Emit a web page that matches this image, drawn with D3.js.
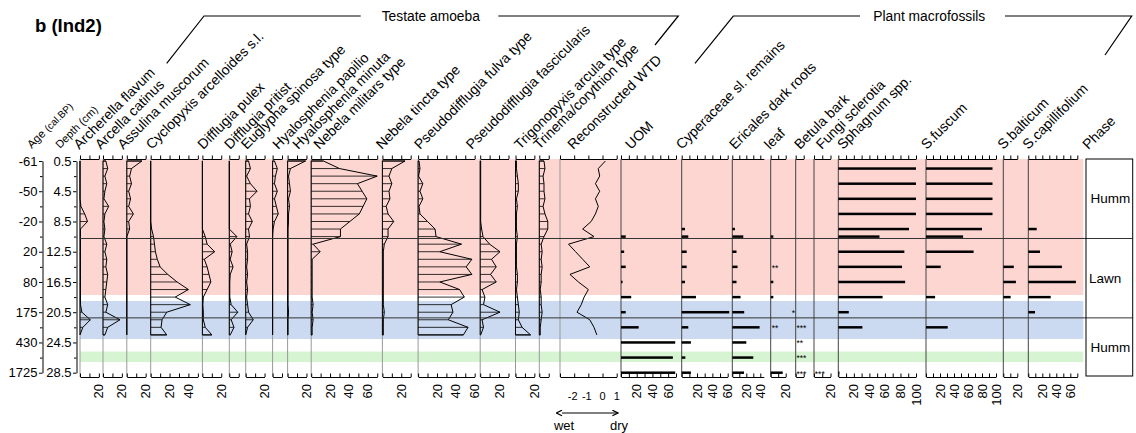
<!DOCTYPE html>
<html><head><meta charset="utf-8">
<script src="https://cdn.jsdelivr.net/npm/d3@7/dist/d3.min.js"></script>
<style>
html,body{margin:0;padding:0;background:#fff;}
svg text{font-family:"Liberation Sans",Arial,Helvetica,sans-serif;fill:#000;}
</style></head><body>
<svg id="chart" width="1136" height="433"></svg>
<script>
// ================= DATA =================
const depthTicks = [0.5, 4.5, 8.5, 12.5, 16.5, 20.5, 24.5, 28.5];
const minorDepthTicks = [2.5, 6.5, 10.5, 14.5, 18.5, 22.5, 26.5];
const ageLabels = ["-61", "-50", "-20", "20", "80", "175", "430", "1725"];
const depthLabels = ["0.5", "4.5", "8.5", "12.5", "16.5", "20.5", "24.5", "28.5"];

// testate amoeba sample depths (cm)
const taDepths = [0.5,1.5,2.5,3.5,4.5,5.5,6.5,7.5,8.5,9.5,10.5,11.5,12.5,13.5,14.5,15.5,16.5,17.5,18.5,19.5,20.5,21.5,22.5,23.5];
const taTaxa = ["Archerella flavum","Arcella catinus","Assulina muscorum","Cyclopyxis arcelloides s.l.","Difflugia pulex","Difflugia pritist","Euglypha spinosa type","Hyalosphenia papilio","Hyalosphenia minuta","Nebela militars type","Nebela tincta type","Pseudodifflugia fulva type","Pseudodifflugia fascicularis","Trigonopyxis arcula type","Trinema/corythion type"];
const archerellaFlavum   = [0,0,0,0,0,0,1,5,8,0.5,0.5,0.5,0.5,0.5,0.5,0.5,0.5,0.5,0.5,0.5,2,11,3,0];
const arcellaCatinus     = [3,5,2,4,2,1,6,2,1,2,1,4,2,4,3,5,4,3,2,5,3,18,5,2];
const assulinaMuscorum   = [16,5,3,5,2,4,2,7,2,3,0,0,0,0,0,0,0,0,0,0,0,0,0,0];
const cyclopyxis         = [0,0,0,0,0,0,0,0,0,1,3,4,5,7,10,18,28,40,26,42,17,12,11,17];
const difflugiaPulex     = [0,0,0,0,0,0,0,0,0,0,3,5,13,2,5,7,9,5,1,0.5,1,1,3,10];
const difflugiaPritist   = [0,0,0,0,0,0,0,0,0,0,8,1,3,1,4,1,0.5,0.5,0.5,2,9,2,5,1];
const euglyphaSpinosa    = [3,5,1,5,12,4,5,3,7,3,4,1,2,2,1,2,1,2,1,2,3,8,2,0];
const hyaloPapilio       = [2,5,3,2,5,2,4,6,2,0.5,0,0,0,0,0,0,0,0,0,0,0,0,0,0];
const hyaloMinuta        = [19,3,1,2,3,1,2,1,1,0.5,0.5,0.5,0.5,0.5,0.5,0.5,0.5,0.5,0.5,0.5,1,0.5,0.5,0.5];
const nebelaMilitaris    = [13,30,70,49,54,59,55,51,41,31,31,2,9.5,1,1,1,1,1,1,2,1,2,1,1];
const nebelaTincta       = [24,10,7,10,7,8,4,6,12,6,6,2,1,1,1,1,1,1,1,1,2,1,1,1];
const pseudoFulva        = [1,2,0.5,5,2,5,1,2,10,18,19,46,23,57,51,57,23,44,49,35,37,32,53,48];
const pseudoFascicularis = [0.5,0.5,0.5,0.5,0.5,0.5,0.5,0.5,0.5,1.5,3,10,21,12,17,11,17,2,5,3.5,21,2,3.5,0.5];
const trigonopyxis       = [1,1,2,3,3,1,2,1,1,1,2,1,1,1,1,2,2,1,2,3,4,3,7,16];
const trinema            = [5,6,4,5,5,6,4,6,9,9,5,2,3,2,3,2,2,1,2,2,3,2,1,1];
const taValues = [archerellaFlavum,arcellaCatinus,assulinaMuscorum,cyclopyxis,difflugiaPulex,difflugiaPritist,euglyphaSpinosa,hyaloPapilio,hyaloMinuta,nebelaMilitaris,nebelaTincta,pseudoFulva,pseudoFascicularis,trigonopyxis,trinema];
const taAxisMax = [20,20,20,50,20,10,20,10,20,70,30,60,30,20,10];

// reconstructed water-table depth
const wtdTitle = "Reconstructed WTD";
const wtd = [0.2,-0.3,-0.2,-0.5,-0.2,-0.5,-0.3,-0.5,-0.8,-1.4,-0.6,-2.4,-1.9,-1.4,-0.9,-2.3,-1.7,-1.0,-1.3,-1.5,-1.8,-0.9,-0.6,-0.4];
const wtdTicks = [-3,-2,-1,0,1];
const wtdTickLabels = [-2,-1,0,1];

// plant macrofossils
const macroDepths = [1.5,3.5,5.5,7.5,9.5,10.5,12.5,14.5,16.5,18.5,20.5,22.5,24.5,26.5,28.5];
const macroTaxa = ["UOM","Cyperaceae sl. remains","Ericales dark roots","leaf","Betula bark","Fungi sclerotia","Sphagnum spp.","S.fuscum","S.balticum","S.capillifolium"];
const uom            = [0,0,0,0,0,6,4,6,2,13,6,22.5,69,66,69];
const cyperaceae     = [0,0,0,0,4.3,8.6,6.5,6.5,4.3,18.6,62,8.6,12,4.8,12];
const ericales       = [0,0,0,0,3.8,15.7,6,7.5,6,11.8,17,39,20,30,16.7];
const leaf           = [0,0,0,0,0,3.5,0,0,3.5,3.5,0,0,0,0,16];
const betulaBark     = [0,0,0,0,0,0,0,0,0,0,0,0,0,0,0];
const fungiSclerotia = [0,0,0,0,0,0,0,0,0,0,0,0,0,0,0];
const sphagnumSpp    = [100,100,100,100,91,53,85,82,86,57,13.5,31,0,0,1.5];
const sFuscum        = [95,95,95,95,80,53,68,21,0,13,0,31,0,0,0];
const sBalticum      = [0,0,0,0,0,0,0,15,18,10.5,0,0,0,0,0];
const sCapillifolium = [0,0,0,0,12,0,16.7,48,68,32,9.6,0,0,0,0];
const macroValues = [uom,cyperaceae,ericales,leaf,betulaBark,fungiSclerotia,sphagnumSpp,sFuscum,sBalticum,sCapillifolium];
const macroAxisMax = [70,60,45,20,10,20,100,100,20,70];
// rare occurrences shown as asterisks
const rareTaxon = ["leaf","leaf","leaf","Betula bark","Betula bark","Betula bark","Betula bark","Fungi sclerotia"];
const rareDepth = [14.5,22.5,20.5,22.5,24.5,26.5,28.5,28.5];
const rareMark  = ["**","**","*","***","**","***","***","***"];
const rareAt    = [1.5,1.5,28,1,1,1,1,1];

// zones / phases
const phaseNames = ["Humm","Lawn","Humm"];
const phaseBreaks = [10.75, 21.25];
const bandRanges = [[0.24,18.22],[19.02,24.05],[25.7,27.1]];
const groupTitles = ["Testate amoeba","Plant macrofossils"];

// ================= LAYOUT =================
const TOP = 159, BOT = 377;
const TA_PX = 0.943;
const taLeft   = [80,103,126.8,150.7,202.4,229.3,245.7,272.6,287.6,311.2,382.4,418.1,480.2,515.5,539.3];
const taLabelX = [79.3,100.7,123.3,151.7,203.3,230,246.7,278.3,298.3,319.3,381.7,420,471.7,520,539.3];
const macroLeft   = [621,681.7,732.3,770.7,795.7,814,838.3,926,1003.3,1028.3];
const macroWidth  = [55,46,31.5,15,8,16.5,77.7,70,14,49];
const macroLabelX = [631,681.7,735,770,800,821.7,843,926.7,1003.3,1028.3];
const bandColors = ["#fdd6d1","#cbdaf1","#d6f4d2"];
const FS = 14, TFS = 13;

const svg = d3.select("#chart");
const y = d3.scaleLinear().domain([0.5, 28.5]).range([161, 372.7]);

// background bands
svg.append("g").selectAll("rect").data(bandRanges).join("rect")
  .attr("x", 80).attr("width", 1083.3 - 80)
  .attr("y", d => Math.max(TOP, y(d[0]))).attr("height", d => y(d[1]) - Math.max(TOP, y(d[0])))
  .attr("fill", (d,i) => bandColors[i]);

// title
svg.append("text").attr("x", 35).attr("y", 32).attr("font-size", 18.5).attr("font-weight", "bold").text("b (Ind2)");

// group brackets
svg.append("path").attr("d","M166.7,63.3 L204,16 L360.7,16").attr("fill","none").attr("stroke","#000").attr("stroke-width",1.2);
svg.append("text").attr("x",381.7).attr("y",16).attr("dy","0.35em").attr("font-size",13.8).text(groupTitles[0]);
svg.append("path").attr("d","M498.3,16 L678.3,16 L655,45").attr("fill","none").attr("stroke","#000").attr("stroke-width",1.2);
svg.append("path").attr("d","M695,63.3 L733.3,16 L860,16").attr("fill","none").attr("stroke","#000").attr("stroke-width",1.2);
svg.append("text").attr("x",873.3).attr("y",16).attr("dy","0.35em").attr("font-size",13.8).text(groupTitles[1]);
svg.append("path").attr("d","M1005,16 L1131.7,16 L1105,55").attr("fill","none").attr("stroke","#000").attr("stroke-width",1.2);

function rotLabel(x, yy, txt, fs){
  return svg.append("text").attr("transform", `translate(${x},${yy}) rotate(-45)`).attr("font-size", fs || FS).text(txt);
}
// age / depth labels
const ageT = svg.append("text").attr("transform","translate(31.7,149) rotate(-45)").attr("font-size",11.5);
ageT.append("tspan").text("Age ");
ageT.append("tspan").attr("font-size",10).text("(cal.BP)");
rotLabel(60,149,"Depth (cm)",11);

// left axes
function leftAxis(xPos, labels){
  const g = svg.append("g").attr("transform",`translate(${xPos},0)`)
    .call(d3.axisLeft(y).tickValues(depthTicks).tickFormat((d,i)=>labels[i]).tickSize(3.5).tickSizeOuter(0).tickPadding(1.5));
  g.selectAll("text").attr("font-size",TFS).attr("font-family",'"Liberation Sans",Arial,sans-serif');
  svg.append("g").attr("transform",`translate(${xPos},0)`)
    .call(d3.axisLeft(y).tickValues(minorDepthTicks).tickFormat("").tickSize(2.5).tickSizeOuter(0))
    .call(g=>g.select(".domain").remove());
}
leftAxis(42.5, ageLabels);
leftAxis(76.5, depthLabels);

// generic panel axes (top + bottom)
function panelAxes(x, max, step, labelled, min){
  const lo = min || 0;
  const ticks = d3.range(lo, max + 1e-6, step);
  [TOP, BOT].forEach(yy => {
    svg.append("g").attr("transform",`translate(0,${yy})`)
      .call(d3.axisTop(x).tickValues(ticks).tickSize(3.5).tickSizeOuter(0).tickFormat(""))
      .call(g=>g.select(".domain").attr("stroke","#000"));
  });
  if (labelled) {
    labelled.forEach(v => {
      svg.append("text").attr("transform",`translate(${x(v)},384) rotate(-90)`)
        .attr("text-anchor","end").attr("dy","0.35em").attr("font-size",TFS).text(v);
    });
  }
}

// testate amoeba panels
taValues.forEach((vals, i) => {
  const left = taLeft[i], max = taAxisMax[i];
  const x = d3.scaleLinear().domain([0, max]).range([left, left + max * TA_PX]);
  svg.append("line").attr("x1",left).attr("x2",left).attr("y1",TOP).attr("y2",BOT).attr("stroke","#999").attr("stroke-width",1);
  const g = svg.append("g");
  g.selectAll("line").data(vals).join("line")
    .attr("x1", x(0)).attr("x2", d => x(d))
    .attr("y1", (d,k) => y(taDepths[k])).attr("y2", (d,k) => y(taDepths[k]))
    .attr("stroke","#000").attr("stroke-width",0.8);
  const pts = [[0, taDepths[0]]].concat(vals.map((v,k)=>[v, taDepths[k]]), [[0, taDepths[taDepths.length-1]]]);
  g.append("path").attr("d", d3.line().x(p=>x(p[0])).y(p=>y(p[1]))(pts) + "Z")
    .attr("fill","none").attr("stroke","#000").attr("stroke-width",1);
  panelAxes(x, max, 10, d3.range(20, max + 1e-6, 20));
  rotLabel(taLabelX[i], 150, taTaxa[i]);
});

// WTD panel
{
  const x = d3.scaleLinear().domain([-3, 1]).range([560, 616.7]);
  svg.append("line").attr("x1",560).attr("x2",560).attr("y1",TOP).attr("y2",BOT).attr("stroke","#999");
  svg.append("path").attr("d", d3.line().x(d=>x(d)).y((d,k)=>y(taDepths[k]))(wtd))
    .attr("fill","none").attr("stroke","#000").attr("stroke-width",1);
  panelAxes(x, 1, 1, null, -3);
  wtdTickLabels.forEach(v => {
    svg.append("text").attr("x", x(v) - (v < 0 ? 1.5 : 0)).attr("y", 400).attr("text-anchor","middle").attr("font-size",11).text(v);
  });
  rotLabel(573.3, 150, wtdTitle);
  // wet/dry arrow
  const defs = svg.append("defs");
  ["s","e"].forEach(id => {
    defs.append("marker").attr("id","ar"+id).attr("viewBox","0 0 10 10").attr("refX",id==="e"?9:1).attr("refY",5)
      .attr("markerWidth",7).attr("markerHeight",7).attr("orient", id==="e" ? "auto" : "auto-start-reverse")
      .append("path").attr("d","M1,1 L9,5 L1,9").attr("fill","none").attr("stroke","#000").attr("stroke-width",1.8);
  });
  svg.append("line").attr("x1",562).attr("x2",618).attr("y1",413).attr("y2",413).attr("stroke","#000").attr("stroke-width",1)
    .attr("marker-start","url(#ars)").attr("marker-end","url(#are)");
  svg.append("text").attr("x",564).attr("y",430).attr("text-anchor","middle").attr("font-size",TFS).text("wet");
  svg.append("text").attr("x",619).attr("y",430).attr("text-anchor","middle").attr("font-size",TFS).text("dry");
}

// macrofossil panels
const macroX = {};
macroValues.forEach((vals, i) => {
  const left = macroLeft[i], max = macroAxisMax[i];
  const x = d3.scaleLinear().domain([0, max]).range([left, left + macroWidth[i]]);
  macroX[macroTaxa[i]] = x;
  svg.append("line").attr("x1",left).attr("x2",left).attr("y1",TOP).attr("y2",BOT).attr("stroke","#444").attr("stroke-width",1);
  svg.append("g").selectAll("rect").data(vals.map((v,k)=>({v, d: macroDepths[k]})).filter(o=>o.v>0)).join("rect")
    .attr("x", x(0)).attr("width", o => x(o.v) - x(0))
    .attr("y", o => y(o.d) - 1.25).attr("height", 2.5).attr("fill","#000");
  panelAxes(x, max, 10, d3.range(20, max + 1e-6, 20));
  rotLabel(macroLabelX[i], 150, macroTaxa[i]);
});
rareTaxon.forEach((t, i) => {
  const x = macroX[t];
  svg.append("text").attr("x", x(rareAt[i])).attr("y", y(rareDepth[i])).attr("dy","0.45em")
    .attr("font-size",8.5).attr("fill","#333").text(rareMark[i]);
});

// zone lines
svg.append("g").selectAll("line").data(phaseBreaks).join("line")
  .attr("x1",80).attr("x2",1132.7).attr("y1",d=>y(d)).attr("y2",d=>y(d)).attr("stroke","#333").attr("stroke-width",1);

// phase column
svg.append("rect").attr("x",1086).attr("y",TOP).attr("width",46.7).attr("height",BOT - 1 - TOP)
  .attr("fill","none").attr("stroke","#000").attr("stroke-width",1);
const pb = [TOP, y(phaseBreaks[0]), y(phaseBreaks[1]), BOT - 1];
phaseNames.forEach((p, i) => {
  svg.append("text").attr("x", i===1 ? 1089 : 1090.5).attr("y", (pb[i] + pb[i+1]) / 2).attr("dy","0.35em")
    .attr("font-size",13.5).text(p);
});
rotLabel(1088.3, 150, "Phase");
</script>
</body></html>
